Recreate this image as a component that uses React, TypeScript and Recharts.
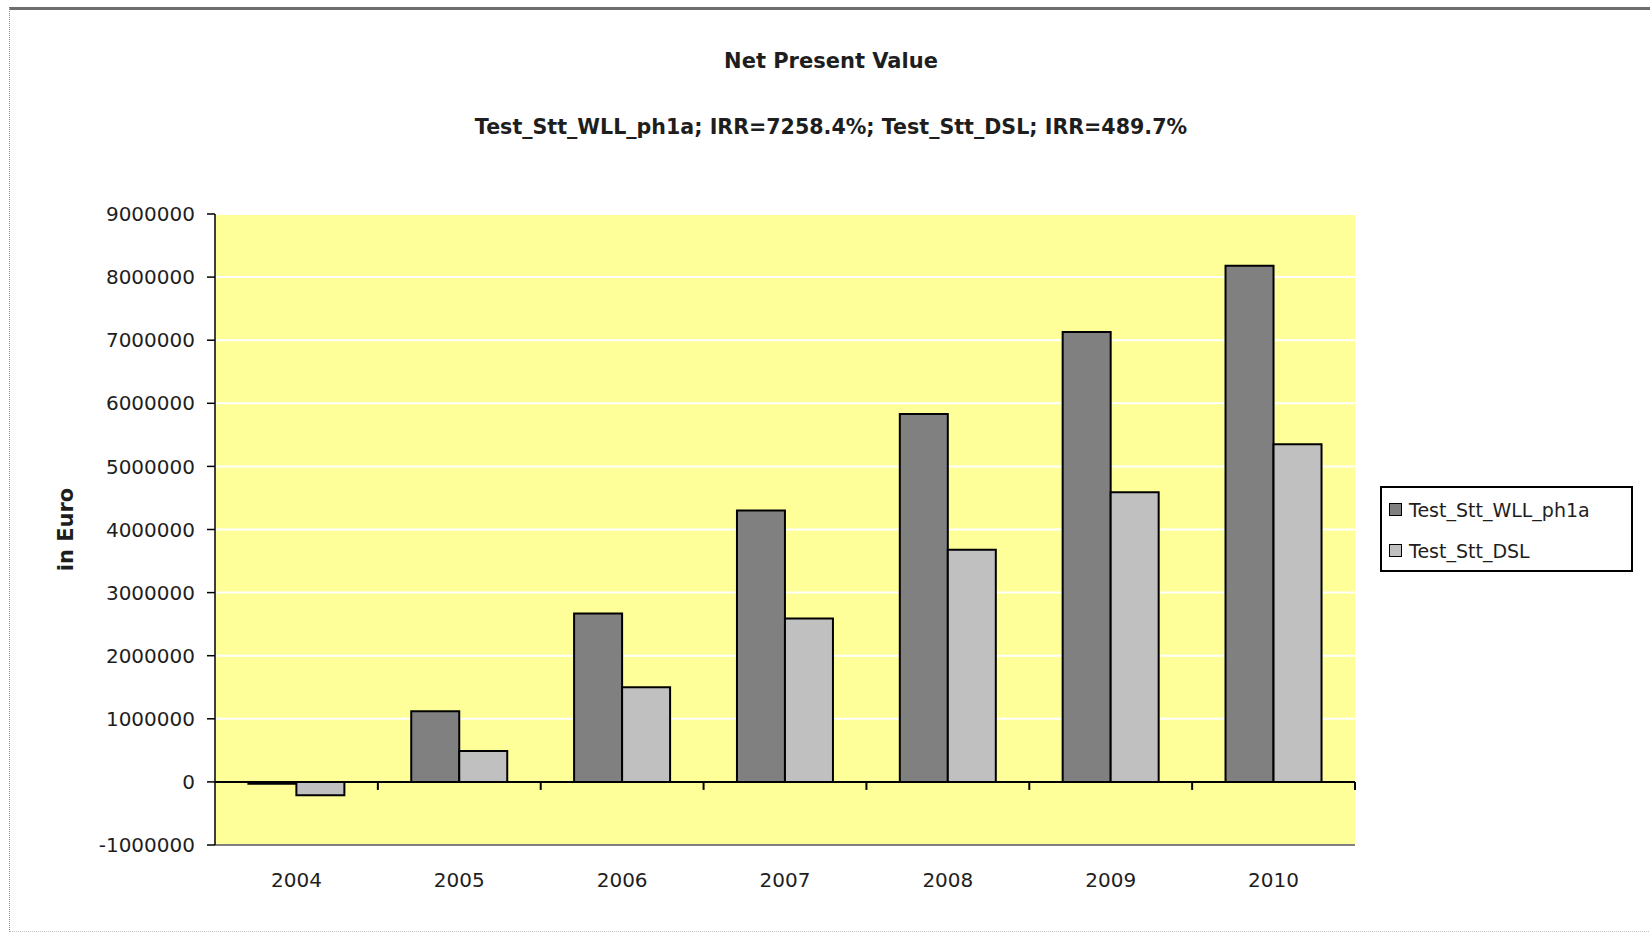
import React from 'react';
import { BarChart, Bar, XAxis, YAxis, CartesianGrid, ReferenceLine, Legend } from 'recharts';

const chartTitle = 'Net Present Value';
const chartSubtitle = 'Test_Stt_WLL_ph1a; IRR=7258.4%; Test_Stt_DSL; IRR=489.7%';
const yAxisTitle = 'in Euro';

const years = ['2004', '2005', '2006', '2007', '2008', '2009', '2010'];
const wllValues = [-30000, 1120000, 2670000, 4300000, 5830000, 7130000, 8180000];
const dslValues = [-210000, 490000, 1500000, 2590000, 3680000, 4590000, 5350000];
const seriesNames = ['Test_Stt_WLL_ph1a', 'Test_Stt_DSL'];
const yTicks = [-1000000, 0, 1000000, 2000000, 3000000, 4000000, 5000000, 6000000, 7000000, 8000000, 9000000];

const data = years.map((year, i) => ({ year, wll: wllValues[i], dsl: dslValues[i] }));

const FONT = '"DejaVu Sans", Verdana, sans-serif';
const TEXT = '#1e1e1e';

// zero line with the small category dividers hanging below it
const ZeroLine = (props: any) => {
  const { x1, y1, x2 } = props;
  const step = (x2 - x1) / years.length;
  return (
    <g>
      <line x1={x1} y1={y1} x2={x2} y2={y1} stroke="#000" strokeWidth={2} />
      {years.map((y, i) => (
        <line key={y} x1={x1 + step * (i + 1)} y1={y1} x2={x1 + step * (i + 1)} y2={y1 + 8} stroke="#000" strokeWidth={2} />
      ))}
    </g>
  );
};

const YAxisTitle = ({ viewBox }: any) => {
  const cx = viewBox.x + 66;
  const cy = viewBox.y + viewBox.height / 2;
  return (
    <text
      x={cx}
      y={cy}
      transform={`rotate(-90 ${cx} ${cy})`}
      textAnchor="middle"
      dominantBaseline="central"
      fontFamily={FONT}
      fontWeight="bold"
      fontSize={21}
      fill={TEXT}
    >
      {yAxisTitle}
    </text>
  );
};

const LegendBox = ({ payload }: any) => {
  // keep series order, not alphabetical
  const items = [...(payload || [])].sort(
    (a: any, b: any) => seriesNames.indexOf(a.value) - seriesNames.indexOf(b.value)
  );
  return (
    <div
      style={{
        width: 253,
        height: 86,
        boxSizing: 'border-box',
        border: '2px solid #000',
        background: '#fff',
        paddingTop: 1,
        paddingLeft: 7,
        fontFamily: FONT,
        fontSize: 19,
        color: TEXT,
      }}
    >
      {items.map((entry: any) => (
        <div key={entry.value} style={{ display: 'flex', alignItems: 'center', height: 41 }}>
          <span
            style={{
              display: 'inline-block',
              width: 13,
              height: 13,
              boxSizing: 'border-box',
              background: entry.color,
              border: '1.5px solid #000',
              marginRight: 7,
            }}
          />
          {entry.value}
        </div>
      ))}
    </div>
  );
};

export default function App() {
  return (
    <div style={{ position: 'absolute', left: 0, top: 0, width: 1650, height: 935, background: '#fff', overflow: 'hidden' }}>
      <div
        style={{
          position: 'absolute',
          left: 9,
          top: 7,
          width: 1650,
          height: 925,
          boxSizing: 'border-box',
          borderTop: '3px solid #6e6e6e',
          borderLeft: '1px dotted #8a8a8a',
          borderBottom: '1px dotted #c4c4c4',
        }}
      />
      <div style={{ position: 'absolute', left: 431, top: 49, width: 800, textAlign: 'center', fontFamily: FONT, fontWeight: 'bold', fontSize: 21, lineHeight: '24px', color: TEXT }}>
        {chartTitle}
      </div>
      <div style={{ position: 'absolute', left: 331, top: 115, width: 1000, textAlign: 'center', fontFamily: FONT, fontWeight: 'bold', fontSize: 20.6, lineHeight: '24px', color: TEXT }}>
        {chartSubtitle}
      </div>
      <div style={{ position: 'absolute', left: 0, top: 0 }}>
        <BarChart
          width={1650}
          height={935}
          data={data}
          margin={{ top: 214, right: 295, bottom: 30, left: 0 }}
          barCategoryGap="20.5%"
          barGap={0}
        >
          <CartesianGrid vertical={false} stroke="#ffffff" strokeWidth={2} fill="#FFFF99" fillOpacity={1} />
          <XAxis
            dataKey="year"
            height={60}
            axisLine={{ stroke: '#808080', strokeWidth: 2 }}
            tickLine={false}
            tickSize={0}
            tickMargin={28}
            tick={{ fontFamily: FONT, fontSize: 20, fill: TEXT }}
          />
          <XAxis xAxisId="top" dataKey="year" orientation="top" height={0} tick={false} tickLine={false} axisLine={{ stroke: '#808080', strokeWidth: 2 }} />
          <YAxis
            width={215}
            domain={[-1000000, 9000000]}
            ticks={yTicks}
            interval={0}
            allowDataOverflow
            axisLine={{ stroke: '#000', strokeWidth: 1.5 }}
            tickLine={{ stroke: '#000', strokeWidth: 1.5 }}
            tickSize={8}
            tickMargin={12}
            tick={{ fontFamily: FONT, fontSize: 20, fill: TEXT }}
            label={<YAxisTitle />}
          />
          <YAxis yAxisId="right" orientation="right" width={0} domain={[-1000000, 9000000]} tick={false} tickLine={false} axisLine={{ stroke: '#808080', strokeWidth: 2 }} />
          <Bar dataKey="wll" name={seriesNames[0]} fill="#808080" stroke="#000" strokeWidth={2} isAnimationActive={false} />
          <Bar dataKey="dsl" name={seriesNames[1]} fill="#C0C0C0" stroke="#000" strokeWidth={2} isAnimationActive={false} />
          <ReferenceLine y={0} shape={ZeroLine} />
          <Legend
            layout="vertical"
            align="center"
            verticalAlign="middle"
            wrapperStyle={{ left: 1380, top: 486, width: 253, height: 86 }}
            content={<LegendBox />}
          />
        </BarChart>
      </div>
    </div>
  );
}
